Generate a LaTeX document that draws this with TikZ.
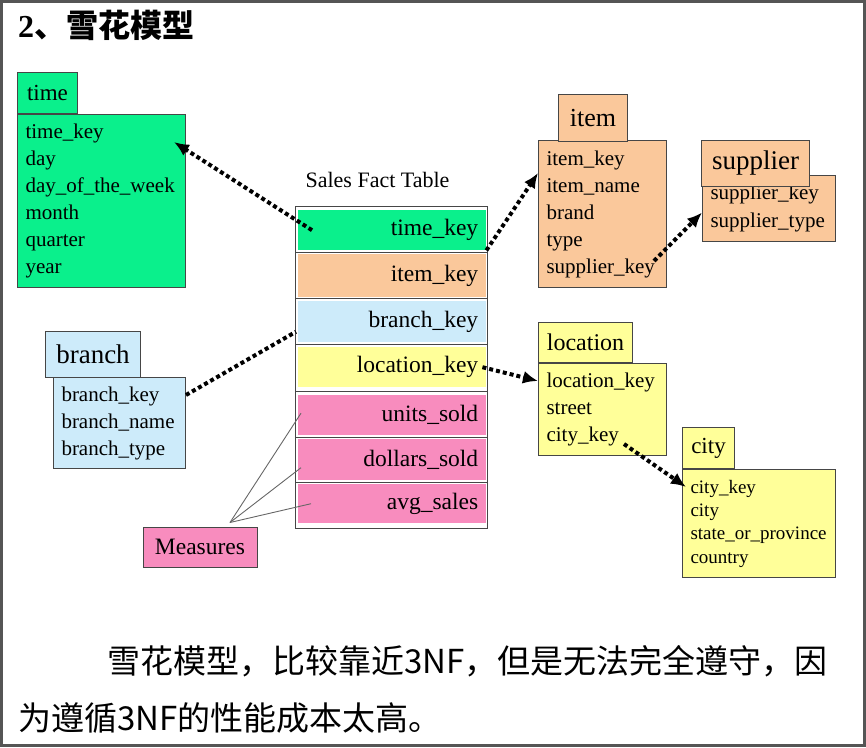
\documentclass[tikz,border=0pt]{standalone}
\usepackage{fontspec}
\setmainfont{Liberation Serif}
\newfontfamily\cjk{Noto Sans CJK SC}
\usetikzlibrary{arrows.meta,positioning,calc}
\definecolor{timegreen}{RGB}{10,240,140}
\definecolor{itemorange}{RGB}{250,200,155}
\definecolor{branchblue}{RGB}{205,235,250}
\definecolor{locyellow}{RGB}{255,255,153}
\definecolor{measpink}{RGB}{248,140,190}
\definecolor{edgegray}{RGB}{70,70,70}
\definecolor{framegray}{RGB}{85,85,85}

\begin{document}
\begin{tikzpicture}[
    x=1pt, y=-1pt,
    fields/.style={draw=edgegray, line width=1pt, anchor=north west, align=left,
                inner xsep=8pt, inner ysep=0pt, font=\fontsize{21}{27}\selectfont},
    head/.style={draw=edgegray, line width=1pt, inner sep=0pt,
                font=\fontsize{#1}{#1}\selectfont},
    row/.style={anchor=north west, inner xsep=8pt, inner ysep=0pt, text width=172pt,
                align=right, font=\fontsize{23.5}{27}\selectfont},
    link/.style={line width=4pt, dash pattern=on 4pt off 3pt,
                -{Latex[length=15pt,width=13pt]}},
    dots/.style={line width=4pt, dash pattern=on 4pt off 3pt},
    measline/.style={draw=gray!80!black, line width=0.9pt}
]

\useasboundingbox (0,0) rectangle (866,747);
\draw[framegray, line width=3pt] (1.5,1.5) rectangle (864.5,745.5);

\node[anchor=west, inner sep=0pt, font=\fontsize{32}{32}\selectfont] (title) at (18,25)
    {\textbf{2}{\cjk\bfseries 、雪花模型}};

\node[fields, fill=timegreen, text width=152pt, minimum height=173pt] (timebody) at (17,114)
    {time\_key\\day\\day\_of\_the\_week\\month\\quarter\\year};
\node[head=23, fill=timegreen, anchor=south west, minimum width=60pt, minimum height=41pt]
    (time) at (timebody.north west) {time};

\node[fields, fill=itemorange, text width=112pt, minimum height=147pt] (itembody) at (538,140)
    {item\_key\\item\_name\\brand\\type\\supplier\_key};
\node[head=26, fill=itemorange, minimum width=69pt, minimum height=47pt,
    above right=-2pt and 20pt of itembody.north west] (item) {item};

\node[fields, fill=itemorange, text width=117pt, minimum height=66pt,
    font=\fontsize{21}{28}\selectfont] (supbody) at (702,175)
    {supplier\_key\\supplier\_type};
\node[head=27, fill=itemorange, minimum width=108pt, minimum height=46pt,
    above right=-12pt and -1pt of supbody.north west] (supplier) {supplier};

\node[fields, fill=branchblue, text width=116pt, minimum height=91pt] (branchbody) at (53,377)
    {branch\_key\\branch\_name\\branch\_type};
\node[head=27, fill=branchblue, minimum width=95pt, minimum height=46pt,
    above right=-1pt and -8pt of branchbody.north west] (branch) {branch};

\node[fields, fill=locyellow, text width=112pt, minimum height=92pt] (locbody) at (538,363)
    {location\_key\\street\\city\_key};
\node[head=24, fill=locyellow, anchor=south west, minimum width=94pt, minimum height=40pt]
    (location) at (locbody.north west) {location};

\node[fields, fill=locyellow, text width=137pt, minimum height=108pt,
    font=\fontsize{19}{23.3}\selectfont] (citybody) at (682,469)
    {city\_key\\city\\state\_or\_province\\country};
\node[head=23, fill=locyellow, anchor=south west, minimum width=52pt, minimum height=41pt]
    (city) at (citybody.north west) {city};

\node[font=\fontsize{22}{22}\selectfont] (factlabel) at (377.5,180) {Sales Fact Table};
\node[draw=edgegray, line width=1pt, fill=white, anchor=north west, inner sep=0pt,
    minimum width=192pt, minimum height=322pt] (fact) at (295,206) {};

\foreach \name/\txt/\col/\ytop/\hgt in {ftime/time\_key/timegreen/210/40,
    fitem/item\_key/itemorange/254/43, fbranch/branch\_key/branchblue/301/41,
    flocation/location\_key/locyellow/347/40, funits/units\_sold/measpink/395/40,
    fdollars/dollars\_sold/measpink/439/41, favg/avg\_sales/measpink/484/39}
  \node[row, fill=\col, minimum height=\hgt pt] (\name) at (298,\ytop) {\txt};

\foreach \y in {252,298,344,391,437,482}
  \draw[edgegray, line width=1pt] (295,\y) -- (487,\y);

\node[draw=edgegray, line width=1pt, fill=measpink, minimum width=114pt, minimum height=40pt,
    font=\fontsize{23.5}{27}\selectfont] (measures) at (200,547) {Measures};
\coordinate (apex) at ([xshift=30pt,yshift=4pt]measures.north);

\draw[measline] (apex) -- ([xshift=3pt,yshift=2pt]funits.west);
\draw[measline] (apex) -- ([xshift=3pt,yshift=-8pt]fdollars.west);
\draw[measline] (apex) -- ([xshift=13pt]favg.west);

\draw[link] ([xshift=14pt]ftime.west) -- ([xshift=-12pt,yshift=-28pt]timebody.north east);
\draw[link] (ftime.south east) -- ([yshift=41pt]itembody.west);
\draw[link] ([xshift=-13pt,yshift=27pt]itembody.south east) -- ([yshift=-4pt]supbody.west);
\draw[dots] ([yshift=-18pt]branchbody.north east) -- ([xshift=-2pt,yshift=-10pt]fbranch.west);
\draw[link] ([xshift=-4pt]flocation.east) -- ([yshift=-18pt]locbody.north west);
\draw[link] ([xshift=-43pt,yshift=12pt]locbody.south east)
    -- ([xshift=4pt,yshift=-18pt]citybody.north west);

\node[anchor=west, inner sep=0pt, font=\cjk\fontsize{33}{33}\selectfont] (note1) at (107,661)
    {雪花模型，比较靠近3NF，但是无法完全遵守，因};
\node[anchor=west, inner sep=0pt, font=\cjk\fontsize{33}{33}\selectfont] (note2) at (18,718)
    {为遵循3NF的性能成本太高。};

\end{tikzpicture}
\end{document}
